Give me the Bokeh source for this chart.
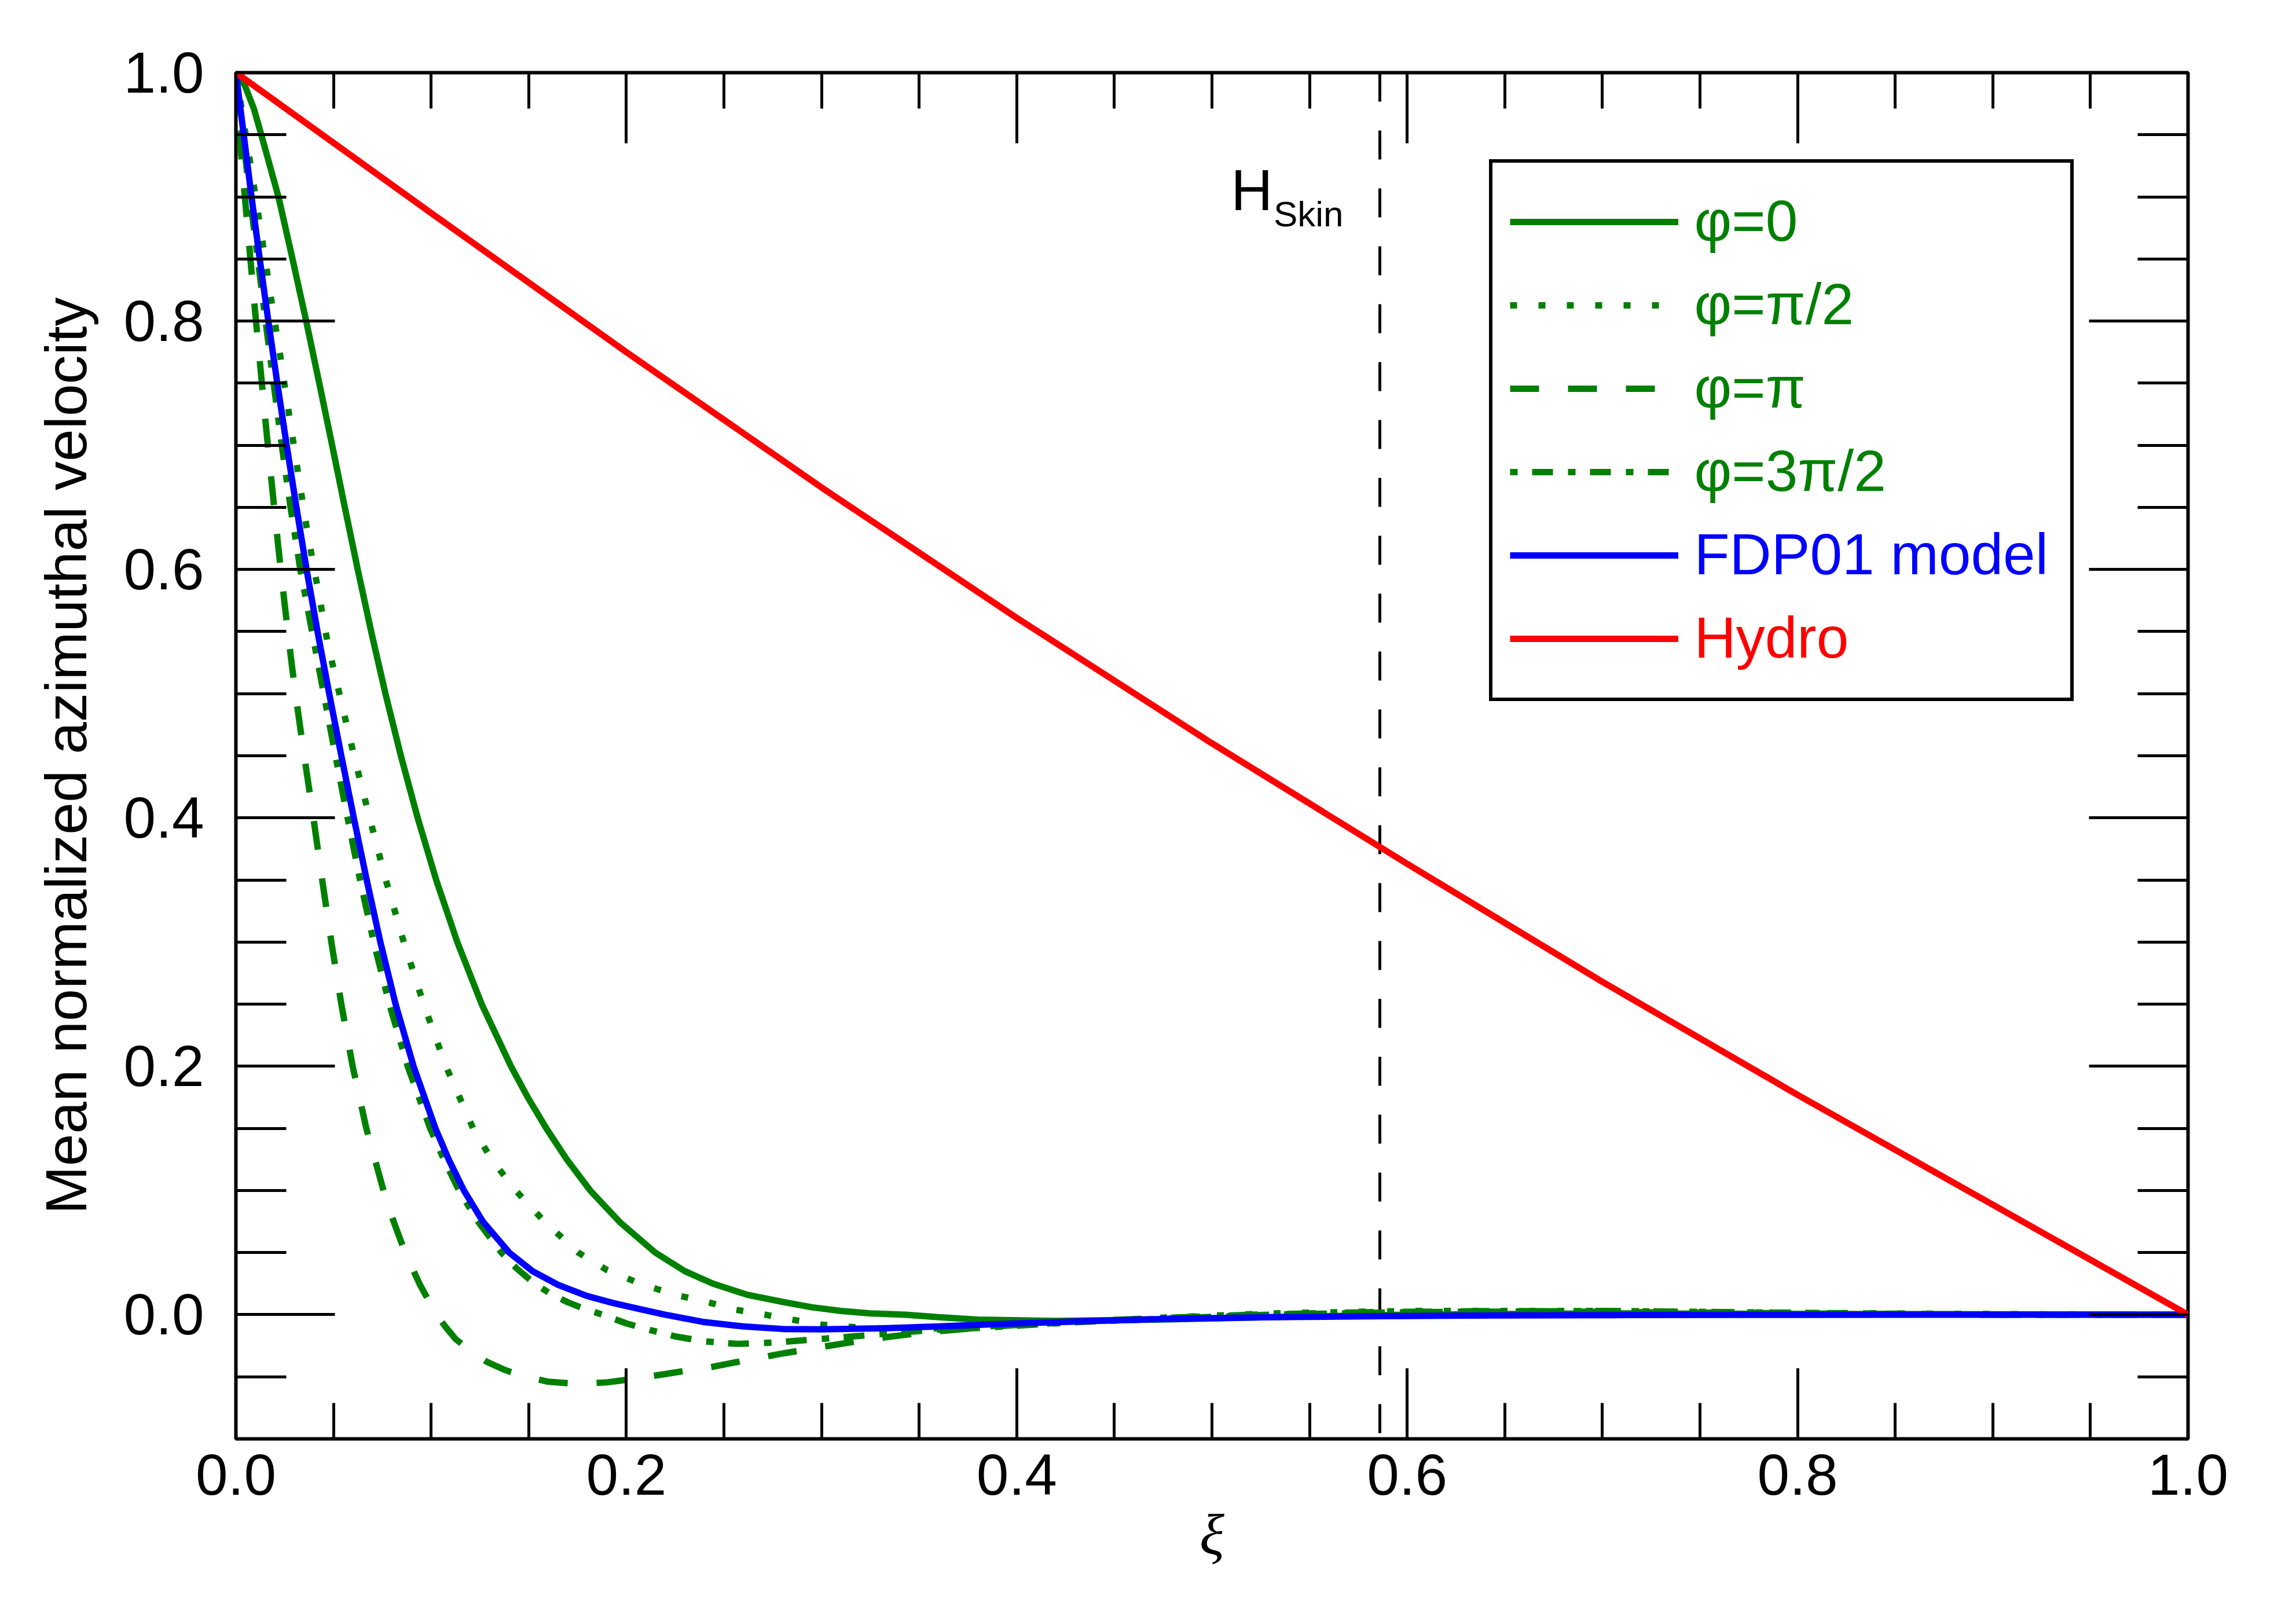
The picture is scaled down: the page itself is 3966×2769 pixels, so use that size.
from bokeh.plotting import figure
from bokeh.models import (Legend, LegendItem, Label, Span, LinearAxis, FixedTicker,
                          PrintfTickFormatter, CustomJSTickFormatter, Range1d)
from bokeh.embed import file_html
from bokeh.resources import INLINE

# ---------------- data ----------------
PHI0_X = [0.0, 0.0045, 0.0092, 0.013, 0.0218, 0.0290, 0.0360, 0.0427, 0.0493, 0.0558,
          0.0624, 0.0693, 0.0766, 0.0845, 0.0931, 0.1026, 0.1134, 0.1259, 0.1409, 0.1495,
          0.1590, 0.1695, 0.1815, 0.197, 0.2148, 0.23, 0.2443, 0.262, 0.281, 0.295, 0.31,
          0.325, 0.343, 0.36, 0.38, 0.42, 0.47, 0.53, 0.6, 0.7, 0.85, 1.0]
PHI0_Y = [1.0, 0.99, 0.971, 0.95, 0.90, 0.85, 0.80, 0.75, 0.70, 0.65,
          0.60, 0.55, 0.50, 0.45, 0.40, 0.35, 0.30, 0.25, 0.20, 0.175,
          0.15, 0.125, 0.10, 0.074, 0.05, 0.035, 0.025, 0.016, 0.010, 0.006, 0.003,
          0.001, 0.0, -0.002, -0.004, -0.005, -0.004, -0.002, 0.0, 0.001, 0.0005, 0.0]

HALF_X = [0.0, 0.0045, 0.0092, 0.0138, 0.0183, 0.0229, 0.0274, 0.0319, 0.0365, 0.0418,
          0.0471, 0.0530, 0.0605, 0.0685, 0.0768, 0.0860, 0.0962, 0.1076, 0.1215, 0.1310,
          0.1433, 0.158, 0.1754, 0.19, 0.207, 0.225, 0.242, 0.256, 0.271, 0.285, 0.30,
          0.315, 0.33, 0.345, 0.36, 0.39, 0.43, 0.48, 0.53, 0.6, 0.7, 0.8, 0.9, 1.0]
HALF_Y = [1.0, 0.955, 0.909, 0.862, 0.815, 0.770, 0.723, 0.677, 0.631, 0.586,
          0.540, 0.50, 0.45, 0.40, 0.35, 0.30, 0.25, 0.20, 0.15, 0.125,
          0.10, 0.075, 0.05, 0.036, 0.025, 0.016, 0.01, 0.004, 0.0, -0.004, -0.008,
          -0.0098, -0.011, -0.0115, -0.011, -0.009, -0.006, -0.002, 0.001, 0.003, 0.003,
          0.0015, 0.0005, 0.0]

PI_X = [0.0, 0.0021, 0.0047, 0.0073, 0.0100, 0.0127, 0.0156, 0.0185, 0.0216, 0.0249,
        0.0281, 0.0305, 0.0350, 0.0397, 0.0442, 0.0489, 0.0540, 0.0598, 0.0668, 0.0756,
        0.0808, 0.0867, 0.094, 0.0983, 0.1027, 0.1075, 0.1126, 0.12, 0.1286, 0.137,
        0.1458, 0.160, 0.175, 0.19, 0.207, 0.225, 0.244, 0.262, 0.281, 0.30, 0.318,
        0.336, 0.355, 0.384, 0.42, 0.47, 0.52, 0.58, 0.65, 0.72, 0.8, 0.9, 1.0]
PI_Y = [1.0, 0.945, 0.898, 0.852, 0.805, 0.76, 0.712, 0.667, 0.62, 0.573,
        0.53, 0.50, 0.45, 0.40, 0.35, 0.30, 0.25, 0.20, 0.15, 0.10,
        0.075, 0.05, 0.025, 0.0125, 0.0, -0.010, -0.0197, -0.029, -0.038, -0.044,
        -0.049, -0.054, -0.0557, -0.0545, -0.051, -0.0465, -0.042, -0.0365, -0.031, -0.026, -0.0215,
        -0.0175, -0.014, -0.010, -0.006, -0.003, 0.0, 0.002, 0.003, 0.002, 0.001, 0.0, 0.0]

TPI_X = [0.0, 0.0035, 0.0072, 0.0112, 0.0152, 0.0193, 0.0235, 0.0280, 0.0330, 0.0390,
         0.0450, 0.0510, 0.0572, 0.0636, 0.0706, 0.0786, 0.0880, 0.0995, 0.1065, 0.1143,
         0.124, 0.136, 0.144, 0.153, 0.161, 0.170, 0.178, 0.1877, 0.2, 0.212, 0.225,
         0.24, 0.257, 0.275, 0.30, 0.32, 0.343, 0.36, 0.384, 0.43, 0.48, 0.53, 0.6,
         0.7, 0.8, 0.9, 1.0]
TPI_Y = [1.0, 0.95, 0.90, 0.85, 0.80, 0.75, 0.70, 0.65, 0.60, 0.55,
         0.50, 0.45, 0.40, 0.35, 0.30, 0.25, 0.20, 0.15, 0.125, 0.10,
         0.075, 0.05, 0.037, 0.025, 0.017, 0.010, 0.005, 0.0, -0.007, -0.0123, -0.0175,
         -0.0215, -0.0235, -0.0225, -0.0195, -0.017, -0.014, -0.012, -0.0104, -0.006, -0.003,
         0.0, 0.002, 0.003, 0.0015, 0.0, 0.0]

FDP_X = [0.0, 0.0040, 0.0080, 0.0122, 0.0166, 0.0212, 0.0260, 0.0310, 0.0362, 0.0418,
         0.0478, 0.0540, 0.0604, 0.0670, 0.0740, 0.0818, 0.0910, 0.1022, 0.1090, 0.1168,
         0.1265, 0.1400, 0.1520, 0.1650, 0.180, 0.193, 0.207, 0.2197, 0.24, 0.26, 0.28,
         0.30, 0.33, 0.36, 0.386, 0.43, 0.477, 0.53, 0.5875, 0.65, 0.713, 0.8, 0.9, 1.0]
FDP_Y = [1.0, 0.95, 0.90, 0.85, 0.80, 0.75, 0.70, 0.65, 0.60, 0.55,
         0.50, 0.45, 0.40, 0.35, 0.30, 0.25, 0.20, 0.15, 0.125, 0.10,
         0.075, 0.05, 0.035, 0.024, 0.0150, 0.0095, 0.0045, 0.0, -0.006, -0.0095, -0.0115,
         -0.0118, -0.011, -0.0095, -0.0078, -0.0055, -0.0034, -0.002, -0.0012, -0.0006,
         -0.0003, -0.0001, 0.0, 0.0]

HYDRO_X = [0.0, 0.1, 0.2, 0.3, 0.4, 0.5, 0.6, 0.7, 0.8, 0.9, 1.0]
HYDRO_Y = [1.0, 0.887, 0.775, 0.666, 0.561, 0.46, 0.363, 0.268, 0.177, 0.0885, 0.0]

H_SKIN = 0.586

SERIES_LABELS = ["\u03c6=0", "\u03c6=\u03c0/2", "\u03c6=\u03c0", "\u03c6=3\u03c0/2", "FDP01 model", "Hydro"]
X_TICKS = [0.0, 0.2, 0.4, 0.6, 0.8, 1.0]
X_MINOR = [round(0.05 * i, 2) for i in range(21)]
Y_TICKS = [0.0, 0.2, 0.4, 0.6, 0.8, 1.0]
Y_MINOR = [round(-0.1 + 0.05 * i, 2) for i in range(23)]

GREEN = "#008000"
BLUE = "#0000ff"
RED = "#ff0000"
LW = 11
SANS = "Liberation Sans"
SERIF = "Liberation Serif"

# ---------------- figure ----------------
W, H = 3960, 2764
FL, FT, FR, FB = 407, 125, 3779, 2485   # frame edges in canvas px
p = figure(width=W, height=H, output_backend="svg", toolbar_location=None,
           x_range=Range1d(0, 1), y_range=Range1d(-0.1, 1.0),
           min_border_left=FL, min_border_right=W - FR,
           min_border_top=FT, min_border_bottom=H - FB)
p.grid.visible = False
p.background_fill_color = "white"
p.border_fill_color = "white"
p.outline_line_color = "black"
p.outline_line_alpha = 1.0
p.outline_line_width = 6


def style_axis(ax, major_in, minor_in, ticks, minor):
    ax.ticker = FixedTicker(ticks=ticks, minor_ticks=minor)
    ax.axis_line_color = None
    ax.major_tick_in = major_in
    ax.major_tick_out = 0
    ax.minor_tick_in = minor_in
    ax.minor_tick_out = 0
    ax.major_tick_line_width = 5
    ax.minor_tick_line_width = 5
    ax.major_tick_line_color = "black"
    ax.minor_tick_line_color = "black"


xa = p.xaxis[0]
style_axis(xa, 122, 62, X_TICKS, X_MINOR)
xa.formatter = PrintfTickFormatter(format="%.1f")
xa.major_label_text_font = SANS
xa.major_label_text_font_size = "100px"
xa.major_label_text_color = "black"
xa.major_label_standoff = 27
xa.axis_label = "\u03be"
xa.axis_label_text_font = SERIF
xa.axis_label_text_font_style = "italic"
xa.axis_label_text_font_size = "100px"
xa.axis_label_text_color = "black"
xa.axis_label_standoff = 10

ya = p.yaxis[0]
style_axis(ya, 171, 87, Y_TICKS, Y_MINOR)
ya.formatter = PrintfTickFormatter(format="%.1f")
ya.major_label_text_font = SANS
ya.major_label_text_font_size = "100px"
ya.major_label_text_color = "black"
ya.major_label_standoff = 55
ya.axis_label = "Mean normalized azimuthal velocity"
ya.axis_label_text_font = SANS
ya.axis_label_text_font_style = "normal"
ya.axis_label_text_font_size = "100px"
ya.axis_label_text_color = "black"
ya.axis_label_standoff = 40

blank = CustomJSTickFormatter(code="return ''")
top = LinearAxis(formatter=blank, major_label_text_font_size="0px", major_label_standoff=0)
style_axis(top, 122, 62, X_TICKS, X_MINOR)
p.add_layout(top, "above")
right = LinearAxis(formatter=blank, major_label_text_font_size="0px", major_label_standoff=0)
style_axis(right, 171, 87, Y_TICKS, Y_MINOR)
p.add_layout(right, "right")

# vertical skin-depth marker
p.add_layout(Span(location=H_SKIN, dimension="height", line_color="black",
                  line_width=5, line_dash="50 50", level="underlay"))

# ---------------- curves ----------------
r0 = p.line(PHI0_X, PHI0_Y, line_color=GREEN, line_width=LW)
r1 = p.line(HALF_X, HALF_Y, line_color=GREEN, line_width=LW, line_dash="12 37")
r2 = p.line(PI_X, PI_Y, line_color=GREEN, line_width=LW, line_dash="50 50")
r3 = p.line(TPI_X, TPI_Y, line_color=GREEN, line_width=LW, line_dash="13 25 36 26")
r4 = p.line(FDP_X, FDP_Y, line_color=BLUE, line_width=LW)
r5 = p.line(HYDRO_X, HYDRO_Y, line_color=RED, line_width=LW)
renderers = [r0, r1, r2, r3, r4, r5]

# ---------------- legend (samples) ----------------
LEG_LEFT, LEG_BOTTOM = 2165, 1274      # screen px from frame bottom-left
PAD, ROW, GW, STAND, LABW, EXTRA = 30, 144, 291, 33, 614, 6
legend = Legend(items=[LegendItem(label=" ", renderers=[r]) for r in renderers],
                location=(LEG_LEFT, LEG_BOTTOM), orientation="vertical",
                border_line_color="black", border_line_alpha=1.0, border_line_width=6,
                background_fill_color="white", background_fill_alpha=0.0,
                padding=PAD, spacing=0, margin=0,
                glyph_width=GW, glyph_height=ROW, label_height=ROW,
                label_width=LABW, label_standoff=STAND,
                label_text_font=SANS, label_text_font_size="97px")
p.add_layout(legend)

label_colors = [GREEN, GREEN, GREEN, GREEN, BLUE, RED]
FRAME_H = FB - FT
leg_h = 2 * PAD + 2 * EXTRA + ROW * 6
leg_top = FRAME_H - LEG_BOTTOM - leg_h     # from frame top, screen px
for i, (txt, col) in enumerate(zip(SERIES_LABELS, label_colors)):
    yc = leg_top + EXTRA + PAD + ROW * (i + 0.5)   # row centre from frame top
    p.add_layout(Label(x=LEG_LEFT + EXTRA + PAD + GW + STAND - 6, y=FRAME_H - yc + 3,
                       x_units="screen", y_units="screen", text=txt,
                       text_font=SANS, text_font_size="100px", text_color=col,
                       text_align="left", text_baseline="alphabetic", level="overlay"))

# H_Skin annotation
p.add_layout(Label(x=H_SKIN, y=0.9058, x_offset=-185, text="H", text_font=SANS,
                   text_font_size="100px", text_color="black",
                   text_align="right", text_baseline="alphabetic", level="overlay"))
p.add_layout(Label(x=H_SKIN, y=0.8862, x_offset=-63, text="Skin", text_font=SANS,
                   text_font_size="62px", text_color="black",
                   text_align="right", text_baseline="alphabetic", level="overlay"))

open("out.html", "w").write(file_html(p, INLINE))
